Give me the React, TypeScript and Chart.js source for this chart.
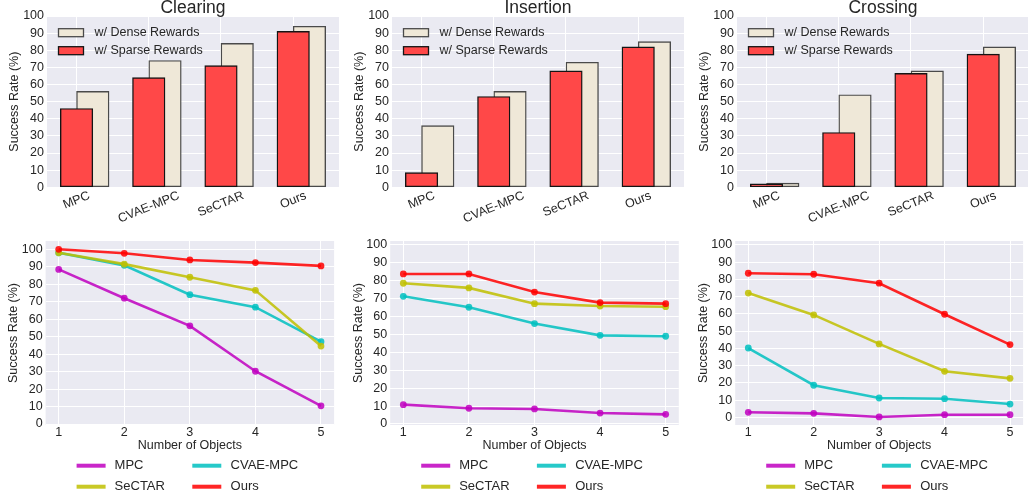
import React, { useEffect, useRef } from "react";
import { Chart, registerables } from "chart.js";

Chart.register(...registerables);

const FONT_FAMILY = '"Liberation Sans", Arial, "Helvetica Neue", sans-serif';
const TEXT_COLOR = "#262626";
const PANEL_BG = "#eaeaf2";
const GRID_COLOR = "#ffffff";

// ---------------- data ----------------
const BAR_CATEGORIES = ["MPC", "CVAE-MPC", "SeCTAR", "Ours"];
const TASKS = ["Clearing", "Insertion", "Crossing"];
const DENSE_LABEL = "w/ Dense Rewards";
const SPARSE_LABEL = "w/ Sparse Rewards";

const CLEARING_SPARSE = [46, 64, 71, 91];
const CLEARING_DENSE = [56, 74, 84, 94];
const INSERTION_SPARSE = [8.6, 53, 68, 82];
const INSERTION_DENSE = [36, 56, 73, 85];
const CROSSING_SPARSE = [2, 32, 66.5, 77.7];
const CROSSING_DENSE = [2.4, 54, 68, 82];

const NUM_OBJECTS = [1, 2, 3, 4, 5];
const METHODS = ["MPC", "CVAE-MPC", "SeCTAR", "Ours"];

const CLEARING_MPC = [88.5, 72, 56.2, 30.2, 10.4];
const CLEARING_CVAE = [98, 90.8, 74, 66.9, 47.1];
const CLEARING_SECTAR = [98, 91.5, 84, 76.5, 44.6];
const CLEARING_OURS = [100, 97.7, 93.9, 92.4, 90.5];

const INSERTION_MPC = [10.8, 8.8, 8.4, 6.1, 5.4];
const INSERTION_CVAE = [71.3, 65.2, 56.1, 49.5, 49];
const INSERTION_SECTAR = [78.6, 76, 67.2, 65.9, 65.5];
const INSERTION_OURS = [83.8, 83.8, 73.7, 67.8, 67.2];

const CROSSING_MPC = [2.9, 2.3, 0.2, 1.5, 1.5];
const CROSSING_CVAE = [40.2, 18.6, 11.2, 10.8, 7.7];
const CROSSING_SECTAR = [72.1, 59.4, 42.6, 26.7, 22.6];
const CROSSING_OURS = [83.6, 83, 77.8, 59.8, 42.2];

const Y_TICKS = [0, 10, 20, 30, 40, 50, 60, 70, 80, 90, 100];
const Y_TITLE = "Success Rate (%)";
const X_TITLE = "Number of Objects";

// ---------------- styles ----------------
const BAR_RED = "#ff4848";
const BAR_RED_EDGE = "#141414";
const BAR_BEIGE = "#efe8d8";
const BAR_BEIGE_EDGE = "#4a4a4a";
const BAR_WIDTH_UNITS = 0.45;
const DENSE_SHIFT = 0.225;
const BAR_X_RANGE = [-0.409, 3.634];
const LINE_X_RANGE = [0.8, 5.2];
const METHOD_COLORS = [
  "rgba(191,0,191,0.85)",
  "rgba(0,191,191,0.85)",
  "rgba(191,191,0,0.85)",
  "rgba(255,0,0,0.85)",
];
const LABEL_ROT_DEG = 22;

type Box = { x0: number; y0: number; w: number; h: number; l: number; r: number; t: number; b: number };

const TOP_BOXES: Box[] = [
  { x0: 0, y0: 0, w: 343, h: 230, l: 47, r: 339, t: 16, b: 187.3 },
  { x0: 343, y0: 0, w: 345, h: 230, l: 392, r: 684, t: 16, b: 187.3 },
  { x0: 688, y0: 0, w: 341, h: 230, l: 737, r: 1029, t: 16, b: 187.3 },
];
const BOTTOM_BOXES: Box[] = [
  { x0: 0, y0: 230, w: 343, h: 266, l: 45.6, r: 334.1, t: 241, b: 425 },
  { x0: 343, y0: 230, w: 345, h: 266, l: 390.2, r: 678.8, t: 241, b: 425 },
  { x0: 688, y0: 230, w: 340, h: 266, l: 735.2, r: 1023.1, t: 241, b: 425 },
];
const BOTTOM_Y_RANGES = [
  [-0.57, 104.75],
  [-0.56, 102.2],
  [-4.47, 102.3],
];

const font = (size: number) => `${size}px ${FONT_FAMILY}`;

function layoutFor(bx: Box) {
  return {
    padding: { left: 0, top: bx.t - bx.y0, right: bx.x0 + bx.w - bx.r, bottom: 0 },
  };
}

function yScale(bx: Box, min: number, max: number) {
  return {
    type: "linear",
    min,
    max,
    border: { display: false },
    grid: { color: GRID_COLOR, lineWidth: 1, drawTicks: false },
    ticks: {
      font: { size: 12.5, family: FONT_FAMILY },
      color: TEXT_COLOR,
      padding: 3,
      autoSkip: false,
    },
    afterBuildTicks: (s: any) => {
      s.ticks = Y_TICKS.map((v) => ({ value: v }));
    },
    afterFit: (s: any) => {
      s.width = bx.l - bx.x0;
    },
  };
}

function fillPanel(chart: any) {
  const { ctx, chartArea: a } = chart;
  ctx.save();
  ctx.fillStyle = PANEL_BG;
  ctx.fillRect(a.left, a.top, a.right - a.left, a.bottom - a.top);
  ctx.restore();
}

function drawYTitle(ctx: CanvasRenderingContext2D, a: any) {
  ctx.save();
  ctx.font = font(12.5);
  ctx.fillStyle = TEXT_COLOR;
  ctx.translate(a.left - 32, (a.top + a.bottom) / 2);
  ctx.rotate(-Math.PI / 2);
  ctx.textAlign = "center";
  ctx.textBaseline = "middle";
  ctx.fillText(Y_TITLE, 0, 0);
  ctx.restore();
}

function barConfig(idx: number, sparse: number[], dense: number[]) {
  const bx = TOP_BOXES[idx];
  const unitPx = (bx.r - bx.l) / (BAR_X_RANGE[1] - BAR_X_RANGE[0]);
  const barPx = BAR_WIDTH_UNITS * unitPx;
  const plugin = {
    id: "barDecor" + idx,
    beforeDraw: (chart: any) => fillPanel(chart),
    afterDraw: (chart: any) => {
      const { ctx, chartArea: a } = chart;
      const xs = chart.scales.x;
      ctx.save();
      // title
      ctx.font = font(17.5);
      ctx.fillStyle = TEXT_COLOR;
      ctx.textAlign = "center";
      ctx.textBaseline = "alphabetic";
      ctx.fillText(TASKS[idx], (a.left + a.right) / 2, 13.3);
      // rotated category labels
      const ang = (LABEL_ROT_DEG * Math.PI) / 180;
      ctx.font = font(12.5);
      BAR_CATEGORIES.forEach((lab, i) => {
        const x = xs.getPixelForValue(i);
        const w = ctx.measureText(lab).width;
        const h = 12.5 * 1.1;
        const bh = w * Math.sin(ang) + h * Math.cos(ang);
        const cy = a.bottom + 1.5 + bh / 2;
        ctx.save();
        ctx.translate(x, cy);
        ctx.rotate(-ang);
        ctx.textAlign = "center";
        ctx.textBaseline = "middle";
        ctx.fillText(lab, 0, 0);
        ctx.restore();
      });
      // legend
      const items = [
        { label: DENSE_LABEL, fill: BAR_BEIGE, edge: BAR_BEIGE_EDGE },
        { label: SPARSE_LABEL, fill: BAR_RED, edge: BAR_RED_EDGE },
      ];
      items.forEach((it, k) => {
        const cy = a.top + 16.7 + k * 18;
        ctx.fillStyle = it.fill;
        ctx.fillRect(a.left + 11.5, cy - 4, 25, 8);
        ctx.strokeStyle = it.edge;
        ctx.lineWidth = 1.3;
        ctx.strokeRect(a.left + 11.5, cy - 4, 25, 8);
        ctx.fillStyle = TEXT_COLOR;
        ctx.font = font(12.5);
        ctx.textAlign = "left";
        ctx.textBaseline = "middle";
        ctx.fillText(it.label, a.left + 47.5, cy);
      });
      ctx.restore();
      drawYTitle(ctx, a);
    },
  };
  return {
    type: "bar",
    data: {
      datasets: [
        {
          label: SPARSE_LABEL,
          data: sparse.map((v, i) => ({ x: i, y: v })),
          backgroundColor: BAR_RED,
          borderColor: BAR_RED_EDGE,
          borderWidth: 1.4,
          borderSkipped: false,
          barThickness: barPx,
          grouped: false,
          order: 0,
        },
        {
          label: DENSE_LABEL,
          data: dense.map((v, i) => ({ x: i + DENSE_SHIFT, y: v })),
          backgroundColor: BAR_BEIGE,
          borderColor: BAR_BEIGE_EDGE,
          borderWidth: 1.4,
          borderSkipped: false,
          barThickness: barPx,
          grouped: false,
          order: 1,
        },
      ],
    },
    options: {
      animation: false,
      responsive: false,
      maintainAspectRatio: false,
      layout: layoutFor(bx),
      plugins: { legend: { display: false }, tooltip: { enabled: false }, title: { display: false } },
      scales: {
        x: {
          type: "linear",
          min: BAR_X_RANGE[0],
          max: BAR_X_RANGE[1],
          offset: false,
          border: { display: false },
          grid: { color: GRID_COLOR, lineWidth: 1, drawTicks: false, offset: false },
          ticks: { display: false, autoSkip: false },
          afterBuildTicks: (s: any) => {
            s.ticks = BAR_CATEGORIES.map((_, i) => ({ value: i }));
          },
          afterFit: (s: any) => {
            s.height = bx.y0 + bx.h - bx.b;
          },
        },
        y: yScale(bx, 0, 100),
      },
    },
    plugins: [plugin],
  };
}

function lineConfig(idx: number, series: number[][]) {
  const bx = BOTTOM_BOXES[idx];
  const [ymin, ymax] = BOTTOM_Y_RANGES[idx];
  const plugin = {
    id: "lineDecor" + idx,
    beforeDraw: (chart: any) => fillPanel(chart),
    afterDraw: (chart: any) => {
      const { ctx, chartArea: a } = chart;
      ctx.save();
      ctx.font = font(12.5);
      ctx.fillStyle = TEXT_COLOR;
      ctx.textAlign = "center";
      ctx.textBaseline = "middle";
      ctx.fillText(X_TITLE, (a.left + a.right) / 2, a.bottom + 20.5);
      // legend
      METHODS.forEach((m, k) => {
        const col = k % 2;
        const row = Math.floor(k / 2);
        const y = a.bottom + 40.7 + row * 21;
        const hx = a.left + (col === 0 ? 31 : 146.7);
        ctx.strokeStyle = METHOD_COLORS[k];
        ctx.lineWidth = 4;
        ctx.lineCap = "butt";
        ctx.beginPath();
        ctx.moveTo(hx, y);
        ctx.lineTo(hx + 29, y);
        ctx.stroke();
        ctx.fillStyle = TEXT_COLOR;
        ctx.font = font(13);
        ctx.textAlign = "left";
        ctx.textBaseline = "middle";
        ctx.fillText(m, a.left + (col === 0 ? 69 : 185), y);
      });
      ctx.restore();
      drawYTitle(ctx, a);
    },
  };
  return {
    type: "line",
    data: {
      datasets: METHODS.map((m, k) => ({
        label: m,
        data: series[k].map((v, i) => ({ x: NUM_OBJECTS[i], y: v })),
        borderColor: METHOD_COLORS[k],
        backgroundColor: METHOD_COLORS[k],
        pointBackgroundColor: METHOD_COLORS[k],
        pointBorderWidth: 0,
        pointRadius: 3.4,
        borderWidth: 2.6,
        tension: 0,
        fill: false,
        order: METHODS.length - 1 - k,
      })),
    },
    options: {
      animation: false,
      responsive: false,
      maintainAspectRatio: false,
      layout: layoutFor(bx),
      plugins: { legend: { display: false }, tooltip: { enabled: false }, title: { display: false } },
      scales: {
        x: {
          type: "linear",
          min: LINE_X_RANGE[0],
          max: LINE_X_RANGE[1],
          border: { display: false },
          grid: { color: GRID_COLOR, lineWidth: 1, drawTicks: false },
          ticks: {
            font: { size: 12.5, family: FONT_FAMILY },
            color: TEXT_COLOR,
            padding: 0,
            autoSkip: false,
            maxRotation: 0,
          },
          afterBuildTicks: (s: any) => {
            s.ticks = NUM_OBJECTS.map((v) => ({ value: v }));
          },
          afterFit: (s: any) => {
            s.height = bx.y0 + bx.h - bx.b;
          },
        },
        y: yScale(bx, ymin, ymax),
      },
    },
    plugins: [plugin],
  };
}

function Panel({ box, make }: { box: Box; make: () => any }) {
  const ref = useRef<HTMLCanvasElement>(null);
  useEffect(() => {
    const chart = new Chart(ref.current as HTMLCanvasElement, make());
    return () => chart.destroy();
  }, []);
  return (
    <canvas
      ref={ref}
      width={box.w}
      height={box.h}
      style={{ position: "absolute", left: box.x0, top: box.y0, width: box.w, height: box.h }}
    />
  );
}

export default function App() {
  Chart.defaults.font.family = FONT_FAMILY;
  return (
    <div
      style={{
        position: "fixed",
        left: 0,
        top: 0,
        width: 1028,
        height: 496,
        overflow: "hidden",
        background: "#ffffff",
      }}
    >
      <Panel box={TOP_BOXES[0]} make={() => barConfig(0, CLEARING_SPARSE, CLEARING_DENSE)} />
      <Panel box={TOP_BOXES[1]} make={() => barConfig(1, INSERTION_SPARSE, INSERTION_DENSE)} />
      <Panel box={TOP_BOXES[2]} make={() => barConfig(2, CROSSING_SPARSE, CROSSING_DENSE)} />
      <Panel
        box={BOTTOM_BOXES[0]}
        make={() => lineConfig(0, [CLEARING_MPC, CLEARING_CVAE, CLEARING_SECTAR, CLEARING_OURS])}
      />
      <Panel
        box={BOTTOM_BOXES[1]}
        make={() => lineConfig(1, [INSERTION_MPC, INSERTION_CVAE, INSERTION_SECTAR, INSERTION_OURS])}
      />
      <Panel
        box={BOTTOM_BOXES[2]}
        make={() => lineConfig(2, [CROSSING_MPC, CROSSING_CVAE, CROSSING_SECTAR, CROSSING_OURS])}
      />
    </div>
  );
}
